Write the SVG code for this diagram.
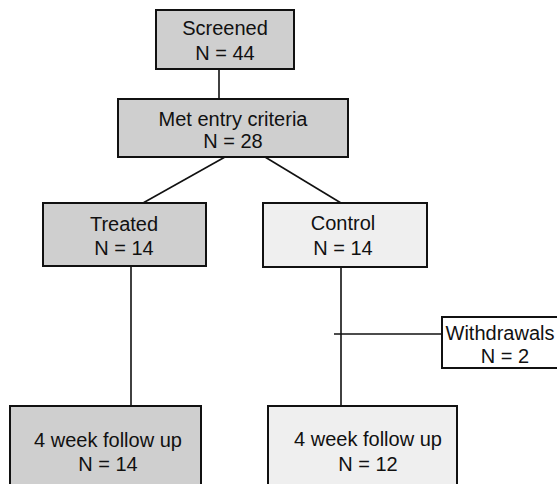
<svg xmlns="http://www.w3.org/2000/svg" width="557" height="484" viewBox="0 0 557 484">
<style>
.box{stroke:#111;stroke-width:2}
.dark{fill:#cfcfcf}
.light{fill:#efefef}
.white{fill:#ffffff}
text{font-family:"Liberation Sans",Arial,sans-serif;font-size:20px;fill:#111;text-anchor:middle}
.conn line{stroke:#111;stroke-width:1.6}
</style>
<rect width="557" height="484" fill="#ffffff"/>
<g id="connectors" class="conn">
<line x1="219" y1="69" x2="219" y2="99"/>
<line x1="225" y1="157" x2="143" y2="203"/>
<line x1="265" y1="157" x2="341" y2="203"/>
<line x1="131" y1="266" x2="131" y2="406"/>
<line x1="341" y1="267" x2="341" y2="406"/>
<line x1="334" y1="334" x2="442" y2="334"/>
</g>
<g id="screened">
<rect class="box dark" x="156" y="10" width="138" height="59"/>
<text x="225" y="35">Screened</text>
<text x="225" y="60">N = 44</text>
</g>
<g id="met">
<rect class="box dark" x="118" y="99" width="230" height="58"/>
<text x="233" y="126">Met entry criteria</text>
<text x="233" y="148">N = 28</text>
</g>
<g id="treated">
<rect class="box dark" x="43" y="203" width="163" height="63"/>
<text x="124" y="231">Treated</text>
<text x="124" y="255">N = 14</text>
</g>
<g id="control">
<rect class="box light" x="263" y="203" width="164" height="64"/>
<text x="343" y="230">Control</text>
<text x="343" y="255">N = 14</text>
</g>
<g id="withdrawals">
<rect class="box white" x="442" y="317" width="130" height="51"/>
<text x="500" y="340">Withdrawals</text>
<text x="505" y="363">N = 2</text>
</g>
<g id="followup-treated">
<rect class="box dark" x="10" y="406" width="191" height="90"/>
<text x="108" y="447">4 week follow up</text>
<text x="108" y="471">N = 14</text>
</g>
<g id="followup-control">
<rect class="box light" x="268" y="406" width="189" height="90"/>
<text x="368" y="446">4 week follow up</text>
<text x="368" y="471">N = 12</text>
</g>
</svg>
